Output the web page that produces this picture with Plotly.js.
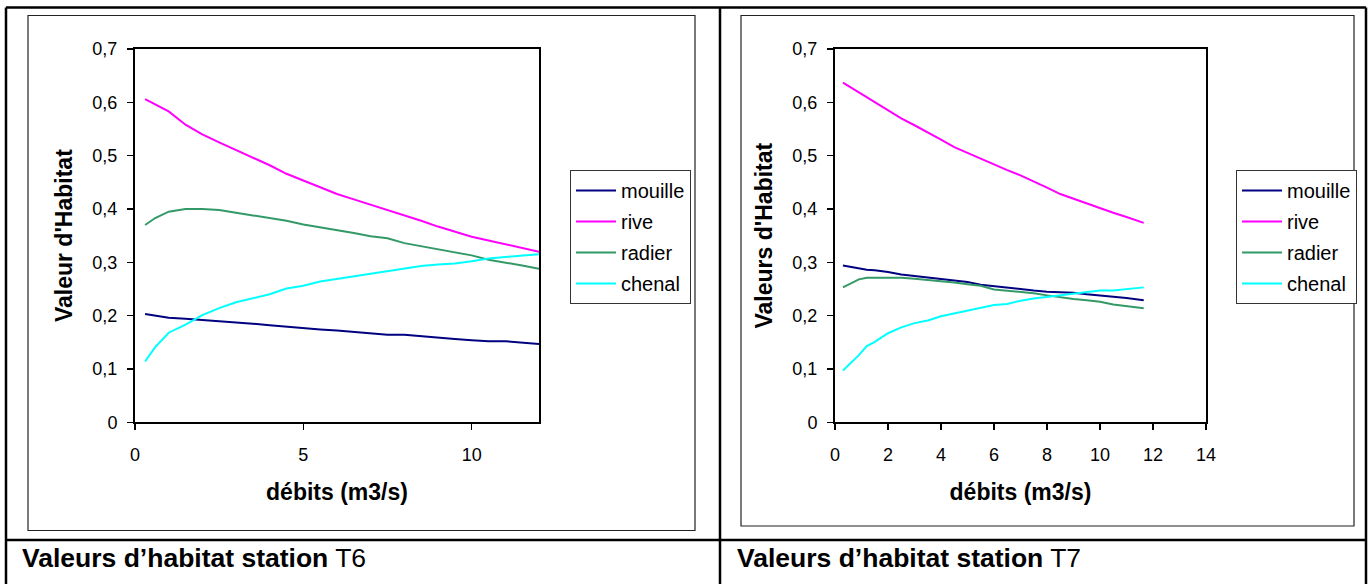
<!DOCTYPE html>
<html>
<head>
<meta charset="utf-8">
<script src="https://cdn.plot.ly/plotly-3.0.1.min.js"></script>
<style>html,body{margin:0;padding:0;background:#fff;}#chart{width:1369px;height:584px;}</style>
</head>
<body>
<div id="chart"></div>
<script>
// ---- Data: station T6 ----
const debitsT6 = [0.3, 0.6, 1.0, 1.5, 2.0, 2.5, 3.0, 3.5, 4.0, 4.5, 5.0, 5.5, 6.0, 6.5, 7.0, 7.5, 8.0, 8.5, 9.0, 9.5, 10.0, 10.5, 11.0, 11.5, 12.0];
const mouilleT6 = [0.203, 0.200, 0.196, 0.194, 0.192, 0.190, 0.187, 0.185, 0.182, 0.179, 0.176, 0.174, 0.172, 0.169, 0.167, 0.164, 0.164, 0.161, 0.159, 0.156, 0.154, 0.152, 0.152, 0.150, 0.147];
const riveT6    = [0.606, 0.596, 0.583, 0.558, 0.540, 0.525, 0.511, 0.497, 0.482, 0.466, 0.453, 0.440, 0.428, 0.418, 0.408, 0.399, 0.389, 0.378, 0.367, 0.357, 0.348, 0.341, 0.334, 0.327, 0.320];
const radierT6  = [0.370, 0.383, 0.395, 0.400, 0.400, 0.398, 0.393, 0.388, 0.383, 0.378, 0.371, 0.366, 0.361, 0.355, 0.349, 0.345, 0.336, 0.330, 0.324, 0.318, 0.313, 0.305, 0.300, 0.294, 0.288];
const chenalT6  = [0.114, 0.141, 0.168, 0.183, 0.201, 0.214, 0.225, 0.233, 0.240, 0.251, 0.256, 0.264, 0.269, 0.274, 0.279, 0.284, 0.289, 0.293, 0.296, 0.298, 0.302, 0.307, 0.310, 0.312, 0.315];

// ---- Data: station T7 ----
const debitsT7 = [0.3, 0.6, 0.9, 1.2, 1.5, 2.0, 2.5, 3.0, 3.5, 4.0, 4.5, 5.0, 5.5, 6.0, 6.5, 7.0, 7.5, 8.0, 8.5, 9.0, 9.5, 10.0, 10.5, 11.0, 11.65];
const mouilleT7 = [0.294, 0.291, 0.288, 0.286, 0.285, 0.282, 0.277, 0.274, 0.272, 0.269, 0.266, 0.263, 0.258, 0.255, 0.252, 0.250, 0.247, 0.245, 0.244, 0.243, 0.240, 0.238, 0.235, 0.233, 0.229];
const riveT7    = [0.637, 0.628, 0.618, 0.610, 0.601, 0.586, 0.570, 0.557, 0.544, 0.530, 0.516, 0.505, 0.494, 0.483, 0.473, 0.463, 0.452, 0.440, 0.428, 0.419, 0.410, 0.401, 0.393, 0.385, 0.374];
const radierT7  = [0.253, 0.261, 0.268, 0.271, 0.271, 0.271, 0.271, 0.269, 0.267, 0.264, 0.262, 0.259, 0.256, 0.249, 0.247, 0.244, 0.242, 0.238, 0.234, 0.231, 0.229, 0.226, 0.221, 0.218, 0.214];
const chenalT7  = [0.097, 0.112, 0.126, 0.143, 0.151, 0.167, 0.178, 0.186, 0.191, 0.199, 0.204, 0.209, 0.215, 0.220, 0.222, 0.228, 0.232, 0.235, 0.237, 0.240, 0.243, 0.247, 0.247, 0.249, 0.253];

const seriesNames = ['mouille', 'rive', 'radier', 'chenal'];
const yTickValues = [0, 0.1, 0.2, 0.3, 0.4, 0.5, 0.6, 0.7];
const captions = ['Valeurs d’habitat station', 'Valeurs d’habitat station'];
const stations = ['T6', 'T7'];
const xTitle = 'débits (m3/s)';
const yTitles = ["Valeur d'Habitat", "Valeurs d'Habitat"];

// ---- styling ----
const W = 1369, H = 584;
const px = v => v / W;
const py = v => 1 - v / H;
const FONT = 'Liberation Sans, Arial, Helvetica, sans-serif';
const colors = ['#000080', '#FF00FF', '#339966', '#00FFFF'];

const t6 = [mouilleT6, riveT6, radierT6, chenalT6];
const t7 = [mouilleT7, riveT7, radierT7, chenalT7];
const traces = [];
seriesNames.forEach((n, i) => {
  traces.push({x: debitsT6, y: t6[i], name: n, type: 'scatter', mode: 'lines',
    line: {color: colors[i], width: 2}, xaxis: 'x', yaxis: 'y', legend: 'legend', legendgroup: 'a' + i});
});
seriesNames.forEach((n, i) => {
  traces.push({x: debitsT7, y: t7[i], name: n, type: 'scatter', mode: 'lines',
    line: {color: colors[i], width: 2}, xaxis: 'x2', yaxis: 'y2', legend: 'legend2', legendgroup: 'b' + i});
});

const tickFont = {family: FONT, size: 18, color: '#000'};
const titleFont = {family: FONT, size: 23, color: '#000', weight: 'bold'};

function xax(domain, range, dtick) {
  return {domain: domain, range: range, dtick: dtick, tick0: 0, showgrid: false, zeroline: false,
    showline: true, linecolor: '#000', linewidth: 2, mirror: true,
    ticks: 'outside', ticklen: 6, tickwidth: 1.5, tickcolor: '#000',
    tickfont: tickFont, ticklabelstandoff: 9,
    title: {text: '<b>' + xTitle + '</b>', font: titleFont, standoff: 20}};
}
function yax(domain, anchor, title) {
  return {domain: domain, range: [0, 0.7], tickvals: yTickValues, showgrid: false, zeroline: false,
    showline: true, linecolor: '#000', linewidth: 2, mirror: true, anchor: anchor,
    ticks: 'outside', ticklen: 6, tickwidth: 1.5, tickcolor: '#000',
    tickfont: tickFont, ticklabelstandoff: 6,
    title: {text: '<b>' + title + '</b>', font: titleFont, standoff: 13}};
}

const legendBase = {bgcolor: '#fff', bordercolor: '#333', borderwidth: 1,
  font: {family: FONT, size: 20, color: '#000'}, xanchor: 'left', yanchor: 'top',
  traceorder: 'grouped', tracegroupgap: 2, itemwidth: 40};

const layout = {
  width: W, height: H,
  margin: {l: 0, r: 0, t: 0, b: 0, pad: 0},
  paper_bgcolor: '#fff', plot_bgcolor: '#fff',
  separators: ', ',
  font: {family: FONT, color: '#000'},
  showlegend: true,
  xaxis: xax([px(135), px(539)], [0, 12], 5),
  yaxis: yax([py(422.3), py(49)], 'x', yTitles[0]),
  xaxis2: Object.assign(xax([px(835), px(1206)], [0, 14], 2), {anchor: 'y2'}),
  yaxis2: yax([py(422.3), py(49)], 'x2', yTitles[1]),
  legend: Object.assign({}, legendBase, {x: px(570), y: py(170)}),
  legend2: Object.assign({}, legendBase, {x: px(1236), y: py(170)}),
  shapes: [
    // outer table
    {type: 'line', xref: 'paper', yref: 'paper', x0: px(6), x1: px(1366), y0: py(7.5), y1: py(7.5), line: {color: '#000', width: 2.5}},
    {type: 'line', xref: 'paper', yref: 'paper', x0: px(6), x1: px(6), y0: py(7.5), y1: py(600), line: {color: '#000', width: 2.5}},
    {type: 'line', xref: 'paper', yref: 'paper', x0: px(1366), x1: px(1366), y0: py(7.5), y1: py(600), line: {color: '#000', width: 2.5}},
    {type: 'line', xref: 'paper', yref: 'paper', x0: px(720), x1: px(720), y0: py(7.5), y1: py(600), line: {color: '#000', width: 2.5}},
    {type: 'line', xref: 'paper', yref: 'paper', x0: px(6), x1: px(1366), y0: py(540), y1: py(540), line: {color: '#000', width: 2.5}},
    // inner chart boxes
    {type: 'rect', xref: 'paper', yref: 'paper', x0: px(28), x1: px(695), y0: py(15.5), y1: py(530.5), line: {color: '#222', width: 1.2}},
    {type: 'rect', xref: 'paper', yref: 'paper', x0: px(741), x1: px(1354), y0: py(15.5), y1: py(526), line: {color: '#222', width: 1.2}}
  ],
  annotations: [
    {xref: 'paper', yref: 'paper', x: px(20), y: py(558), xanchor: 'left', yanchor: 'middle', showarrow: false,
      text: '<b>' + captions[0] + '</b> ' + stations[0], font: {family: FONT, size: 26.5, color: '#000'}},
    {xref: 'paper', yref: 'paper', x: px(735), y: py(558), xanchor: 'left', yanchor: 'middle', showarrow: false,
      text: '<b>' + captions[1] + '</b> ' + stations[1], font: {family: FONT, size: 26.5, color: '#000'}}
  ]
};

Plotly.newPlot('chart', traces, layout, {displayModeBar: false, staticPlot: true});
</script>
</body>
</html>
